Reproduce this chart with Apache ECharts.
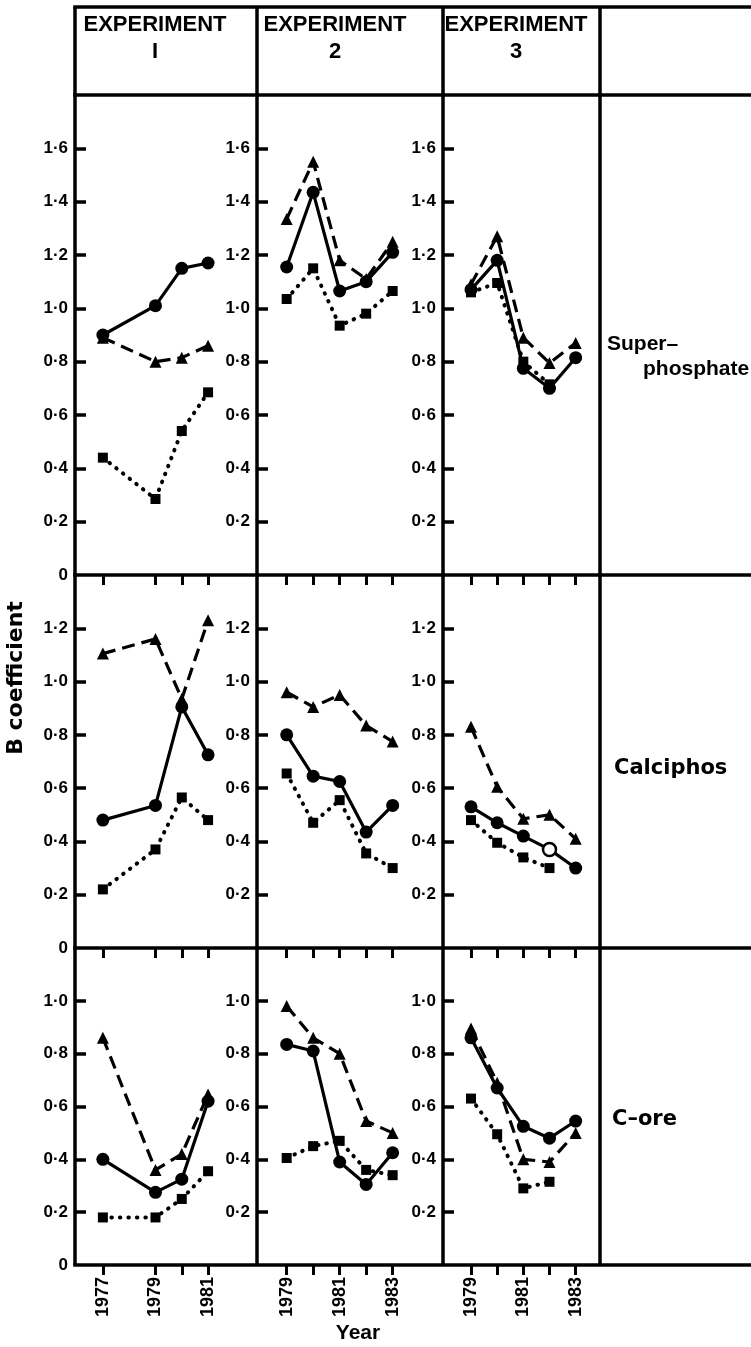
<!DOCTYPE html>
<html>
<head>
<meta charset="utf-8">
<script src="https://cdn.jsdelivr.net/npm/echarts@6/dist/echarts.min.js"></script>
<style>
html,body{margin:0;padding:0;background:#fff;}
#chart{width:751px;height:1347px;}
</style>
</head>
<body>
<div id="chart"></div>
<script>
// ---------- DATA ----------
const yearsExp1 = [1977, 1979, 1980, 1981];
const yearsExp23 = [1979, 1980, 1981, 1982, 1983];
const tickYearsExp1 = [1977, 1979, 1980, 1981];
const tickYearsExp23 = [1979, 1980, 1981, 1982, 1983];
const labelYearsExp1 = [1977, 1979, 1981];
const labelYearsExp23 = [1979, 1981, 1983];

const experimentTitles = ['EXPERIMENT', 'EXPERIMENT', 'EXPERIMENT'];
const experimentNumbers = ['I', '2', '3'];
const fertiliserNames = ['Super–\nphosphate', 'Calciphos', 'C–ore'];
const yAxisTitle = 'B coefficient';
const xAxisTitle = 'Year';
const rowMaxValues = [1.8, 1.4, 1.2];

// Superphosphate
const sp1Circle = [0.90, 1.01, 1.15, 1.17];
const sp1Triangle = [0.89, 0.80, 0.815, 0.86];
const sp1Square = [0.44, 0.285, 0.54, 0.685];
const sp2Circle = [1.155, 1.435, 1.065, 1.10, 1.21];
const sp2Triangle = [1.335, 1.55, 1.18, 1.11, 1.25];
const sp2Square = [1.035, 1.15, 0.935, 0.98, 1.065];
const sp3Circle = [1.07, 1.18, 0.775, 0.70, 0.815];
const sp3Triangle = [1.09, 1.27, 0.89, 0.795, 0.87];
const sp3Square = [1.06, 1.095, 0.80, 0.715, null];

// Calciphos
const ca1Circle = [0.48, 0.535, 0.905, 0.725];
const ca1Triangle = [1.105, 1.16, 0.935, 1.23];
const ca1Square = [0.22, 0.37, 0.565, 0.48];
const ca2Circle = [0.80, 0.645, 0.625, 0.435, 0.535];
const ca2Triangle = [0.96, 0.905, 0.95, 0.835, 0.775];
const ca2Square = [0.655, 0.47, 0.555, 0.355, 0.30];
const ca3Circle = [0.53, 0.47, 0.42, 0.37, 0.30];
const ca3Triangle = [0.83, 0.605, 0.485, 0.50, 0.41];
const ca3Square = [0.48, 0.395, 0.34, 0.30, null];

// C-ore
const co1Circle = [0.40, 0.275, 0.325, 0.62];
const co1Triangle = [0.86, 0.36, 0.42, 0.645];
const co1Square = [0.18, 0.18, 0.25, 0.355];
const co2Circle = [0.835, 0.81, 0.39, 0.305, 0.425];
const co2Triangle = [0.98, 0.86, 0.80, 0.545, 0.50];
const co2Square = [0.405, 0.45, 0.47, 0.36, 0.34];
const co3Circle = [0.86, 0.67, 0.525, 0.48, 0.545];
const co3Triangle = [0.895, 0.69, 0.40, 0.39, 0.50];
const co3Square = [0.63, 0.495, 0.29, 0.315, null];

// ---------- LAYOUT / STYLE ----------
const colLeft = [75, 257, 443];
const colRight = [257, 443, 600];
const rowTop = [95, 575, 948];
const rowBottom = [575, 948, 1265];
const headerTop = 7;
const frameRight = 751;
const xRanges = [[1975.94, 1982.86], [1977.88, 1984.9], [1977.93, 1983.93]];
const hollow = [{ row: 1, col: 2, kind: 'circle', index: 3 }];

const panelValues = [
  [[sp1Circle, sp1Triangle, sp1Square], [sp2Circle, sp2Triangle, sp2Square], [sp3Circle, sp3Triangle, sp3Square]],
  [[ca1Circle, ca1Triangle, ca1Square], [ca2Circle, ca2Triangle, ca2Square], [ca3Circle, ca3Triangle, ca3Square]],
  [[co1Circle, co1Triangle, co1Square], [co2Circle, co2Triangle, co2Square], [co3Circle, co3Triangle, co3Square]]
];

const seriesStyles = [
  { kind: 'circle', symbol: 'circle', size: 13, line: { width: 3.2, type: 'solid' } },
  { kind: 'triangle', symbol: 'triangle', size: 12, line: { width: 3.2, type: [13, 7] } },
  { kind: 'square', symbol: 'rect', size: 10, line: { width: 4, type: [0.5, 8], cap: 'round' } }
];

const numFont = 'Liberation Sans, Arial, sans-serif';
const wideFont = 'DejaVu Sans, sans-serif';

function fmt(v) {
  if (Math.abs(v) < 1e-9) return '0';
  return v.toFixed(1).replace('.', '·');
}

const grids = [], xAxes = [], yAxes = [], series = [];
for (let r = 0; r < 3; r++) {
  for (let c = 0; c < 3; c++) {
    const idx = grids.length;
    grids.push({
      left: colLeft[c], top: rowTop[r],
      width: colRight[c] - colLeft[c], height: rowBottom[r] - rowTop[r],
      containLabel: false
    });
    const years = c === 0 ? yearsExp1 : yearsExp23;
    xAxes.push({
      type: 'value', gridIndex: idx,
      min: xRanges[c][0], max: xRanges[c][1],
      axisLine: { show: false },
      splitLine: { show: false },
      axisTick: {
        show: true, inside: false, length: 10,
        customValues: c === 0 ? tickYearsExp1 : tickYearsExp23,
        lineStyle: { color: '#000', width: 3 }
      },
      axisLabel: {
        show: r === 2,
        customValues: c === 0 ? labelYearsExp1 : labelYearsExp23,
        rotate: 90, margin: 12,
        color: '#000', fontSize: 18, fontWeight: 'bold', fontFamily: numFont,
        formatter: v => String(Math.round(v))
      }
    });
    const yMax = rowMaxValues[r];
    const tickVals = [];
    for (let k = 1; k * 0.2 < yMax - 1e-6; k++) tickVals.push(+(k * 0.2).toFixed(1));
    const labelVals = c === 0 ? [0].concat(tickVals) : tickVals.slice();
    yAxes.push({
      type: 'value', gridIndex: idx,
      min: 0, max: yMax, interval: 0.2,
      axisLine: { show: false },
      splitLine: { show: false },
      axisTick: {
        show: true, inside: true, length: 11,
        customValues: tickVals,
        lineStyle: { color: '#000', width: 3.5 }
      },
      axisLabel: {
        show: true, margin: 7,
        customValues: labelVals,
        color: '#000', fontSize: 17, fontWeight: 'bold', fontFamily: numFont,
        formatter: v => fmt(v)
      }
    });
    seriesStyles.forEach((st, s) => {
      const vals = panelValues[r][c][s];
      const data = [];
      years.forEach((yr, i) => {
        if (vals[i] === null || vals[i] === undefined) return;
        const isHollow = hollow.some(h => h.row === r && h.col === c && h.kind === st.kind && h.index === i);
        if (isHollow) {
          data.push({ value: [yr, vals[i]], itemStyle: { color: '#fff', borderColor: '#000', borderWidth: 2.5 } });
        } else {
          data.push([yr, vals[i]]);
        }
      });
      series.push({
        type: 'line', xAxisIndex: idx, yAxisIndex: idx,
        data: data,
        symbol: st.symbol, symbolSize: st.size, showSymbol: true,
        itemStyle: { color: '#000', borderWidth: 0 },
        lineStyle: Object.assign({ color: '#000' }, st.line),
        z: 3 - s,
        animation: false,
        silent: true
      });
    });
  }
}

// frame lines
const graphics = [];
const vX = [colLeft[0], colLeft[1], colLeft[2], colRight[2]];
vX.forEach(x => graphics.push({
  type: 'line', shape: { x1: x, y1: headerTop, x2: x, y2: rowBottom[2] },
  style: { stroke: '#000', lineWidth: 3.5 }, z: 10
}));
const hY = [headerTop, rowTop[0], rowTop[1], rowTop[2], rowBottom[2]];
hY.forEach(y => graphics.push({
  type: 'line', shape: { x1: colLeft[0] - 1.75, y1: y, x2: frameRight, y2: y },
  style: { stroke: '#000', lineWidth: 3.5 }, z: 10
}));
// header texts
const headerCx = [155, 335, 516];
for (let c = 0; c < 3; c++) {
  graphics.push({
    type: 'text', x: headerCx[c], y: 25, z: 11,
    style: { text: experimentTitles[c], fill: '#000', font: 'bold 22px ' + numFont, textAlign: 'center', textVerticalAlign: 'middle' }
  });
  graphics.push({
    type: 'text', x: headerCx[c], y: 52, z: 11,
    style: { text: experimentNumbers[c], fill: '#000', font: 'bold 22px ' + numFont, textAlign: 'center', textVerticalAlign: 'middle' }
  });
}
// row labels on right
const [superLine1, superLine2] = fertiliserNames[0].split('\n');
graphics.push({ type: 'text', x: 607, y: 344, z: 11,
  style: { text: superLine1, fill: '#000', font: 'bold 21px ' + numFont, textAlign: 'left', textVerticalAlign: 'middle' } });
graphics.push({ type: 'text', x: 643, y: 369, z: 11,
  style: { text: superLine2, fill: '#000', font: 'bold 21px ' + numFont, textAlign: 'left', textVerticalAlign: 'middle' } });
graphics.push({ type: 'text', x: 614, y: 769, z: 11,
  style: { text: fertiliserNames[1], fill: '#000', font: 'bold 21px ' + wideFont, textAlign: 'left', textVerticalAlign: 'middle' } });
graphics.push({ type: 'text', x: 612, y: 1120, z: 11,
  style: { text: fertiliserNames[2], fill: '#000', font: 'bold 21px ' + wideFont, textAlign: 'left', textVerticalAlign: 'middle' } });
// axis titles
graphics.push({ type: 'text', x: 16, y: 678, rotation: Math.PI / 2, z: 11,
  style: { text: yAxisTitle, fill: '#000', font: 'bold 22px ' + wideFont, textAlign: 'center', textVerticalAlign: 'middle' } });
graphics.push({ type: 'text', x: 358, y: 1333, z: 11,
  style: { text: xAxisTitle, fill: '#000', font: 'bold 21px ' + numFont, textAlign: 'center', textVerticalAlign: 'middle' } });

const chart = echarts.init(document.getElementById('chart'), null, { renderer: 'canvas' });
chart.setOption({
  backgroundColor: '#fff',
  animation: false,
  grid: grids,
  xAxis: xAxes,
  yAxis: yAxes,
  series: series,
  graphic: { elements: graphics }
});
</script>
</body>
</html>
